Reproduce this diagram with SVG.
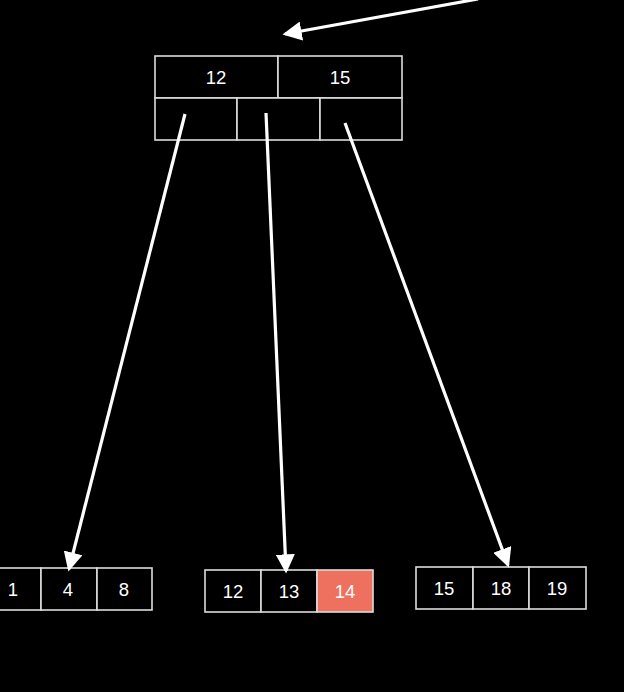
<svg xmlns="http://www.w3.org/2000/svg" width="624" height="692" viewBox="0 0 624 692">
<defs>
<style>
.cell{fill:#000;stroke:#dcdcdc;stroke-width:1.6}
.red{fill:#ee7160}
.t{font-family:"Liberation Sans",Arial,sans-serif;font-size:18.5px;fill:#fff;text-anchor:middle;dominant-baseline:central}
.edge{stroke:#fff;stroke-width:3.2;fill:none;marker-end:url(#ah)}
</style>
<marker id="ah" markerWidth="6" markerHeight="6" refX="5.2" refY="3" orient="auto" markerUnits="strokeWidth" viewBox="0 0 6 6">
<path d="M0,0 L6,3 L0,6 Z" fill="#fff"/>
</marker>
</defs>
<rect width="624" height="692" fill="#000"/>
<g id="root">
<rect class="cell" x="155" y="56" width="123" height="42"/>
<rect class="cell" x="278" y="56" width="124" height="42"/>
<rect class="cell" x="155" y="98" width="82" height="42"/>
<rect class="cell" x="237" y="98" width="83" height="42"/>
<rect class="cell" x="320" y="98" width="82" height="42"/>
<text class="t" x="216" y="77">12</text>
<text class="t" x="340" y="77">15</text>
</g>
<g id="leaf1">
<rect class="cell" x="-15" y="568" width="56" height="42"/>
<rect class="cell" x="41" y="568" width="56" height="42"/>
<rect class="cell" x="97" y="568" width="55" height="42"/>
<text class="t" x="13" y="589">1</text>
<text class="t" x="68" y="589">4</text>
<text class="t" x="124" y="589">8</text>
</g>
<g id="leaf2">
<rect class="cell" x="205" y="570" width="56" height="42"/>
<rect class="cell" x="261" y="570" width="56" height="42"/>
<rect class="cell red" x="317" y="570" width="56" height="42"/>
<text class="t" x="233" y="591">12</text>
<text class="t" x="289" y="591">13</text>
<text class="t" x="345" y="591">14</text>
</g>
<g id="leaf3">
<rect class="cell" x="416" y="567" width="57" height="42"/>
<rect class="cell" x="473" y="567" width="56" height="42"/>
<rect class="cell" x="529" y="567" width="57" height="42"/>
<text class="t" x="444" y="588">15</text>
<text class="t" x="501" y="588">18</text>
<text class="t" x="557" y="588">19</text>
</g>
<g id="connectors">
<path class="edge" d="M478,-1 L285,34"/>
<path class="edge" d="M185,114 L69,569"/>
<path class="edge" d="M266,113 L286,571"/>
<path class="edge" d="M345,123 L508,565"/>
</g>
</svg>
